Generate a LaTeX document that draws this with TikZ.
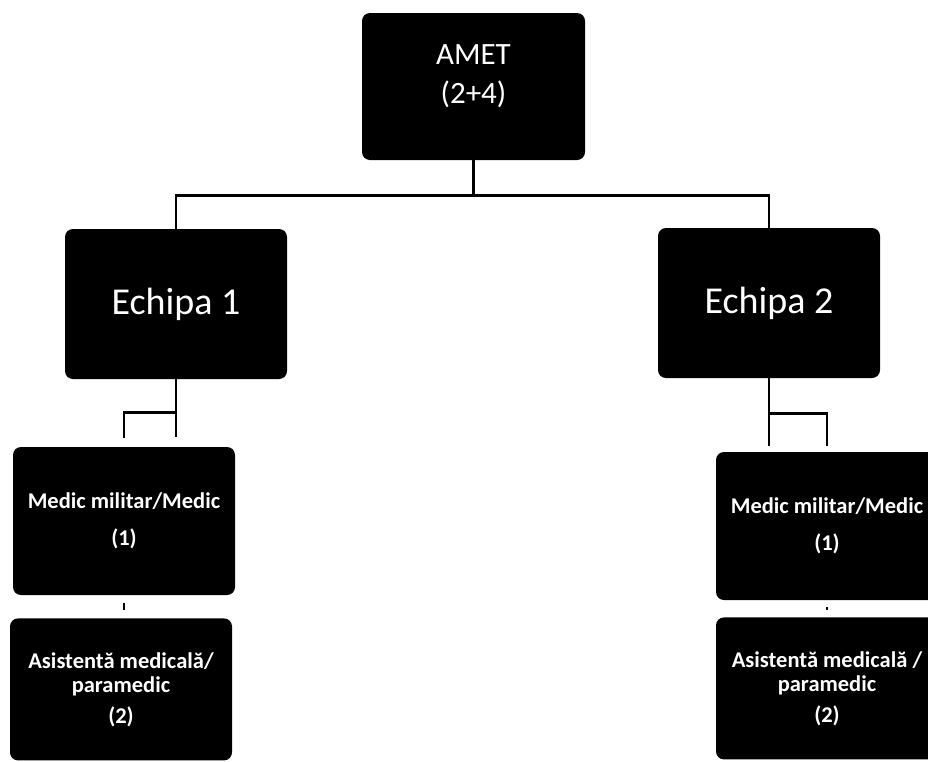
\documentclass[tikz,border=0pt]{standalone}
\usepackage{fontspec}
\setmainfont{Carlito}
\usetikzlibrary{positioning}

\begin{document}
\begin{tikzpicture}[x=1pt,y=-1pt,node distance=23pt,
  box/.style={fill=black,text=white,rounded corners=8pt,align=center,minimum width=222pt,inner sep=0pt},
  headbox/.style={box,minimum width=223pt,minimum height=147pt,text depth=24pt,font=\fontsize{31}{39}\selectfont},
  teambox/.style={box,minimum height=150pt,font=\fontsize{38}{44}\selectfont},
  staffbox/.style={box,minimum height=148pt,font=\bfseries\fontsize{22.5}{26}\selectfont},
  nursebox/.style={box,minimum height=142pt,font=\bfseries\fontsize{22.5}{24}\selectfont},
  wire/.style={line width=2.6pt,black}]
\useasboundingbox (0,0) rectangle (928,761);
\clip (0,0) rectangle (928,761);
% top of the chart
\node[headbox] (amet) at (473.5,86.5) {AMET\\(2+4)};
\node[teambox] (team1) at (176,304) {Echipa 1};
\node[teambox] (team2) at (769,303) {Echipa 2};
\draw[wire] (amet.south) -- ++(0,35) coordinate (bus);
\draw[wire] (team1.north) |- (bus) -| (team2.north);
% first team
\node[staffbox] (med1) at (124,521) {Medic militar/Medic\\[11pt](1)};
\node[nursebox,below=of med1,xshift=-3pt] (nurse1) {Asistentă medicală/\\paramedic\\[7pt](2)};
\draw[wire] (team1.south) -- ++(0,58);
\draw[wire,shorten >=9pt] (team1.south) ++(0,33) -| (med1.north);
\draw[wire,shorten <=8pt,shorten >=8pt] (med1.south) -- (med1.south |- nurse1.north);
% second team
\node[staffbox] (med2) at (827,526) {Medic militar/Medic\\[11pt](1)};
\node[nursebox,below=17pt of med2] (nurse2) {Asistentă medicală /\\paramedic\\[7pt](2)};
\draw[wire] (team2.south) -- ++(0,68);
\draw[wire,shorten >=6pt] (team2.south) ++(0,35) -| (med2.north);
\draw[wire,shorten <=7pt,shorten >=7pt] (med2.south) -- (nurse2.north);
\end{tikzpicture}
\end{document}
